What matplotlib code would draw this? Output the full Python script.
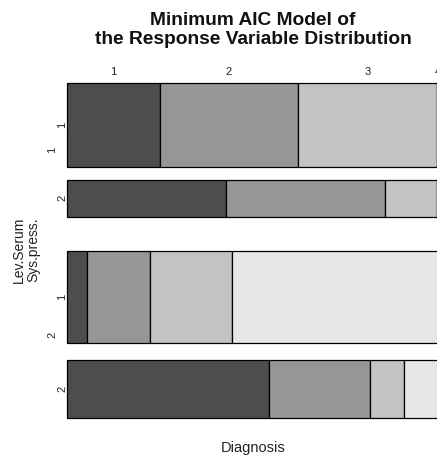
import numpy as np
import matplotlib
matplotlib.use("Agg")
import matplotlib.pyplot as plt
from matplotlib.transforms import blended_transform_factory

plt.rcParams['font.family'] = ['Liberation Sans', 'DejaVu Sans']

# Categories
diagnosis = ["1", "2", "3", "4"]
lev_serum = ["1", "2"]
sys_press = ["1", "2"]

# Share of each Lev.Serum level, and of Sys.press. within each Lev.Serum level
lev_share = [0.446, 0.554]
sys_share = [[0.694, 0.306],
             [0.616, 0.384]]

# Diagnosis distribution within each (Lev.Serum, Sys.press.) cell
diag_11 = [0.250, 0.371, 0.373, 0.006]
diag_12 = [0.427, 0.427, 0.140, 0.006]
diag_21 = [0.054, 0.169, 0.220, 0.557]
diag_22 = [0.543, 0.272, 0.091, 0.094]
diag_props = [[diag_11, diag_12], [diag_21, diag_22]]

colors = ["#4D4D4D", "#969696", "#C3C3C3", "#E6E6E6"]

W, H = 437, 461
fig = plt.figure(figsize=(W / 100, H / 100), dpi=100)

# plot region in pixels (runs slightly past the right edge of the figure)
left_px, right_px, top_px, bottom_px = 67, 439, 83, 418
ax = fig.add_axes([left_px / W, 1 - bottom_px / H,
                   (right_px - left_px) / W, (bottom_px - top_px) / H])
total = bottom_px - top_px
outer_gap = 34
inner_gaps = [13, 17]
content = total - outer_gap - sum(inner_gaps)
ax.set_xlim(0, 1)
ax.set_ylim(total, 0)
ax.axis("off")

ytr = blended_transform_factory(fig.transFigure, ax.transData)
xtr = blended_transform_factory(ax.transData, fig.transFigure)

y = 0.0
for i, lev in enumerate(lev_serum):
    group_h = content * lev_share[i]
    group_top = y
    for j, sp in enumerate(sys_press):
        h = group_h * sys_share[i][j]
        props = np.array(diag_props[i][j])
        lefts = np.concatenate([[0], np.cumsum(props)[:-1]])
        ax.barh(y + h / 2, props, left=lefts, height=h, color=colors,
                edgecolor="black", linewidth=0.9, clip_on=False)
        ax.text(62 / W, y + h / 2, sp, transform=ytr, rotation=90,
                ha="center", va="center", fontsize=8, color="#222222")
        if i == 0 and j == 0:
            # column labels over the first row
            for k, d in enumerate(diagnosis):
                ax.text(lefts[k] + props[k] / 2, 1 - 72 / H, d, transform=xtr,
                        ha="center", va="center", fontsize=8, color="#222222")
        y += h
        if j == 0:
            y += inner_gaps[i]
    ax.text(52 / W, (group_top + y) / 2, lev, transform=ytr, rotation=90,
            ha="center", va="center", fontsize=8, color="#222222")
    y += outer_gap

fig.text(253 / W, 1 - 30 / H, "Minimum AIC Model of\nthe Response Variable Distribution",
         ha="center", va="center", fontsize=13.8, fontweight="bold",
         linespacing=1.15, color="#111111")
fig.text(253 / W, 1 - 448 / H, "Diagnosis", ha="center", va="center",
         fontsize=10.5, color="#222222")
fig.text(26 / W, 1 - 250 / H, "Lev.Serum\nSys.press.", ha="center", va="center",
         rotation=90, fontsize=10, linespacing=1.0, color="#222222")

fig.savefig("out.png", dpi=100)
